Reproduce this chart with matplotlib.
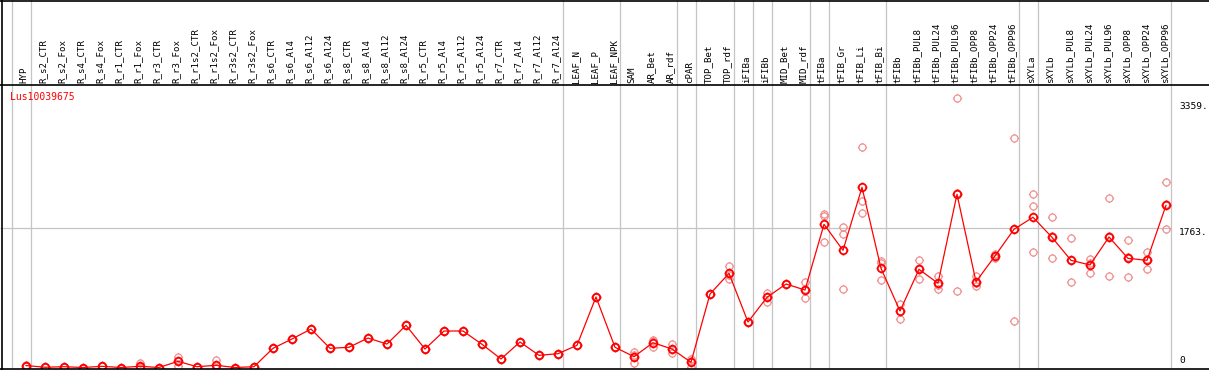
import matplotlib
matplotlib.use("Agg")
import numpy as np
import matplotlib.pyplot as plt
from matplotlib.path import Path
from matplotlib.lines import Line2D

# sample names (column headers)
samples = ["HYP",
           "R_s2_CTR", "R_s2_Fox", "R_s4_CTR", "R_s4_Fox", "R_r1_CTR", "R_r1_Fox",
           "R_r3_CTR", "R_r3_Fox", "R_r1s2_CTR", "R_r1s2_Fox", "R_r3s2_CTR", "R_r3s2_Fox",
           "R_s6_CTR", "R_s6_Al4", "R_s6_Al12", "R_s6_Al24",
           "R_s8_CTR", "R_s8_Al4", "R_s8_Al12", "R_s8_Al24",
           "R_r5_CTR", "R_r5_Al4", "R_r5_Al12", "R_r5_Al24",
           "R_r7_CTR", "R_r7_Al4", "R_r7_Al12", "R_r7_Al24",
           "LEAF_N", "LEAF_P", "LEAF_NPK",
           "SAM", "AR_Bet", "AR_rdf",
           "cPAR", "TOP_Bet", "TOP_rdf", "iFIBa", "iFIBb", "MID_Bet", "MID_rdf",
           "tFIBa", "tFIB_Gr", "tFIB_Li", "tFIB_Bi",
           "tFIBb", "tFIBb_PUL8", "tFIBb_PUL24", "tFIBb_PUL96",
           "tFIBb_OPP8", "tFIBb_OPP24", "tFIBb_OPP96",
           "sXYLa", "sXYLb", "sXYLb_PUL8", "sXYLb_PUL24", "sXYLb_PUL96",
           "sXYLb_OPP8", "sXYLb_OPP24", "sXYLb_OPP96"]

# mean expression per sample
means = [25,
         3, 10, 0, 15, 0, 15, 0, 78, 10, 28, 0, 10,
         243, 361, 487, 243,
         256, 373, 297, 534,
         234, 462, 462, 294,
         108, 323, 154, 175,
         281, 893, 256,
         137, 314, 234,
         66, 930, 1192, 576, 889, 1057, 981,
         1813, 1484, 2281, 1256,
         715, 1243, 1066, 2193, 1086, 1412, 1750,
         1902, 1648, 1357, 1298, 1652, 1382, 1357, 2053]

# individual replicates
reps = [[35, 20, 20],
        [3, 3, 3], [10, 10, 10], [0, 0, 0], [15, 15, 15], [0, 0, 0], [53, 3, 0],
        [0, 0, 0], [129, 19, 86], [10, 10, 10], [91, 0, 0], [0, 0, 0], [10, 10, 10],
        [243, 243, 243], [361, 361, 361], [487, 487, 487], [243, 243, 243],
        [256, 256, 256], [373, 373, 373], [297, 297, 297], [534, 534, 534],
        [234, 234, 234], [462, 462, 462], [462, 462, 462], [294, 294, 294],
        [108, 108, 108], [323, 323, 323], [154, 154, 154], [175, 175, 175],
        [281, 281, 281], [893, 893, 893], [256, 256, 256],
        [196, 53, 162], [332, 263, 347], [294, 180, 228],
        [111, 10, 77], [930, 930, 930], [1285, 1117, 1174], [576, 576, 576],
        [947, 833, 887], [1057, 1060, 1054], [1079, 876, 988],
        [1943, 1918, 1585], [1775, 1690, 990], [2788, 2112, 1952], [1352, 1319, 1104],
        [808, 618, 719], [1357, 1117, 1255], [1158, 990, 1050], [3408, 968, 2203],
        [1162, 1028, 1068], [1437, 1386, 1413], [2902, 589, 1759],
        [2193, 2041, 1458], [1902, 1382, 1660], [1636, 1079, 1356], [1370, 1200, 1324],
        [2142, 1155, 1659], [1610, 1142, 1394], [1458, 1243, 1370], [2345, 1750, 2064]]

# group boundaries (index of last sample in each group)
group_ends = [-1, 0, 28, 31, 34, 35, 37, 38, 39, 41, 42, 45, 52, 53, 60]
ytick_vals = [0, 1763, 3359]
gene = "Lus10039675"

W, H = 1209, 370
fig = plt.figure(figsize=(W / 100, H / 100), dpi=100)

# sample i sits at x = 26 + 19*i pixels
x_lo, x_hi = -26 / 19, (W - 26) / 19
px_per_val = 12.66

ax = fig.add_axes([0, 2 / H, 1, 283 / H])
ax.set_xlim(x_lo, x_hi)
ax.set_ylim((367.5 - 368) * px_per_val, (367.5 - 85) * px_per_val)
ax.axis("off")

hd = fig.add_axes([0, 285 / H, 1, 85 / H])
hd.set_xlim(x_lo, x_hi)
hd.set_ylim(85, 0)
hd.axis("off")

# marker: circle (polygon) with four little ticks
t = np.linspace(0, 2 * np.pi, 33)
circ = Path(np.column_stack([np.cos(t), np.sin(t)]))
ticks = [Path([(0, 1), (0, 1.3)]), Path([(0, -1), (0, -1.3)]),
         Path([(1, 0), (1.3, 0)]), Path([(-1, 0), (-1.3, 0)])]
gear = Path.make_compound_path(circ, *ticks)

grey = "#c4c4c4"
for g in group_ends:
    ax.axvline(g + 0.24, color=grey, lw=0.9, zorder=1)
    hd.axvline(g + 0.24, color=grey, lw=0.9, zorder=1)

ax.hlines(ytick_vals[1], x_lo, group_ends[-1] + 0.24, color=grey, lw=0.9, zorder=1)

xs = list(range(len(samples)))
for i, r in enumerate(reps):
    ax.plot([i] * len(r), r, linestyle="none", marker=gear, markersize=6.6,
            mfc="none", mec="#f09090", mew=0.9, zorder=2)

ax.plot(xs, means, color="#ff0000", lw=0.9, zorder=3)
ax.plot(xs, means, linestyle="none", marker=gear, markersize=7,
        mfc="none", mec="#ff0000", mew=1.3, zorder=4)

for i, s in enumerate(samples):
    hd.text(i - 0.09, 83, s, rotation=90, ha="center", va="bottom",
            family="DejaVu Sans Mono", fontsize=6.6, color="black")

tx = (1179 - 26) / 19
ax.text(tx, ytick_vals[2], "%d." % ytick_vals[2], ha="left", va="top",
        family="DejaVu Sans Mono", fontsize=6.8)
ax.text(tx, ytick_vals[1], "%d." % ytick_vals[1], ha="left", va="top",
        family="DejaVu Sans Mono", fontsize=6.8)
ax.text(tx, 30, "0", ha="left", va="bottom",
        family="DejaVu Sans Mono", fontsize=6.8)

fig.text(10 / W, 1 - 97.5 / H, gene, ha="left", va="center", color="red",
         family="DejaVu Sans Mono", fontsize=7)

# frame lines
def hline(y, x0=0, x1=W):
    fig.add_artist(Line2D([x0 / W, x1 / W], [1 - y / H, 1 - y / H],
                          color="black", lw=1.2, transform=fig.transFigure))

hline(0.6)
hline(85)
hline(368.5)
fig.add_artist(Line2D([1.5 / W, 1.5 / W], [0, 1], color="black", lw=1.2,
                      transform=fig.transFigure))

fig.savefig("out.png", dpi=100, facecolor="white")
